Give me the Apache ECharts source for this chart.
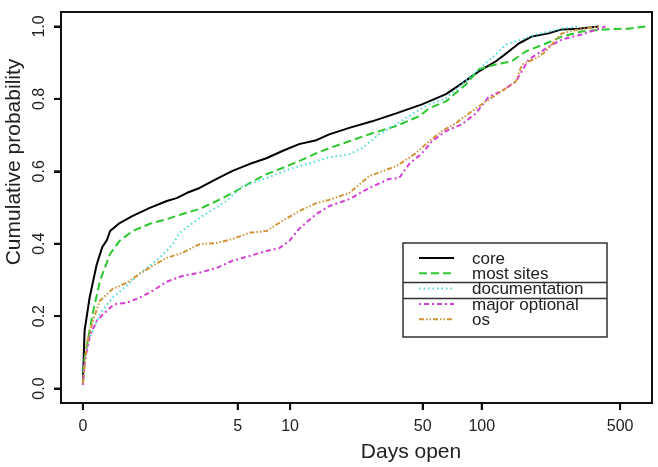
<!DOCTYPE html>
<html><head><meta charset="utf-8">
<script src="https://cdn.jsdelivr.net/npm/echarts@6/dist/echarts.min.js"></script>
<style>html,body{margin:0;padding:0;background:#fff}#wrap{position:relative;width:658px;height:467px}#c{width:658px;height:467px}#ticks{position:absolute;left:0;top:0;pointer-events:none}</style>
</head><body><div id="wrap"><div id="c"></div><svg id="ticks" width="658" height="467" xmlns="http://www.w3.org/2000/svg"></svg></div>
<script>
// ---- data ----
const xTickDays = [0, 5, 10, 50, 100, 500];
const yTicks = [0, 0.2, 0.4, 0.6, 0.8, 1.0];
const seriesNames = ['core', 'most sites', 'documentation', 'major optional', 'os'];

const coreDays = [0, 0.02, 0.08, 0.17, 0.25, 0.32, 0.37, 0.53, 0.78, 1.17, 1.64, 1.96, 2.32, 2.86, 3.7, 4.65, 5.87, 7.36, 9.06, 11.2, 13.9, 16.3, 20.8, 27.4, 36.5, 49.6, 65.8, 79.3, 96.7, 118, 137, 154, 179, 218, 254, 309, 390];
const coreProb = [0.02, 0.16, 0.25, 0.34, 0.39, 0.41, 0.435, 0.457, 0.477, 0.499, 0.518, 0.526, 0.54, 0.554, 0.579, 0.601, 0.62, 0.636, 0.656, 0.675, 0.686, 0.702, 0.72, 0.738, 0.76, 0.785, 0.813, 0.843, 0.876, 0.904, 0.931, 0.953, 0.972, 0.981, 0.992, 0.994, 1.0];

const mostDays = [0, 0.01, 0.08, 0.12, 0.22, 0.37, 0.53, 0.78, 1.17, 1.64, 2.17, 2.86, 3.7, 4.65, 5.87, 7.36, 9.06, 11.2, 13.9, 16.3, 20.8, 27.4, 36.5, 47.9, 53.9, 65.8, 83.1, 96.7, 118, 142, 167, 211, 254, 320, 422, 551, 670];
const mostProb = [0.01, 0.07, 0.16, 0.207, 0.298, 0.372, 0.408, 0.435, 0.455, 0.468, 0.482, 0.496, 0.518, 0.54, 0.567, 0.592, 0.609, 0.628, 0.65, 0.664, 0.683, 0.705, 0.725, 0.752, 0.774, 0.793, 0.84, 0.882, 0.895, 0.904, 0.931, 0.953, 0.972, 0.986, 0.992, 0.994, 1.0];

const docDays = [0, 0.023, 0.084, 0.22, 0.41, 0.66, 1.0, 1.43, 1.83, 2.06, 2.86, 4.27, 5.34, 7.36, 9.9, 13.9, 16.3, 20.8, 24.3, 29.8, 36.5, 44.1, 53.9, 65.8, 79.3, 96.7, 118, 132, 149, 188, 254, 309];
const docProb = [0.01, 0.085, 0.14, 0.207, 0.251, 0.284, 0.325, 0.361, 0.399, 0.43, 0.471, 0.518, 0.559, 0.581, 0.606, 0.628, 0.639, 0.647, 0.664, 0.702, 0.73, 0.758, 0.785, 0.802, 0.84, 0.882, 0.923, 0.95, 0.959, 0.978, 0.994, 1.0];

const majorDays = [0, 0.023, 0.084, 0.175, 0.32, 0.41, 0.48, 0.66, 0.93, 1.24, 1.64, 2.17, 2.86, 3.7, 4.65, 5.87, 7.36, 8.72, 9.9, 11.2, 13.9, 16.3, 20.8, 26.5, 33.6, 37.8, 42.6, 49.6, 55.8, 65.8, 79.3, 93.4, 109, 126, 149, 173, 211, 254, 320, 422];
const majorProb = [0.01, 0.077, 0.146, 0.187, 0.215, 0.229, 0.234, 0.237, 0.251, 0.27, 0.295, 0.311, 0.32, 0.333, 0.353, 0.366, 0.38, 0.388, 0.408, 0.441, 0.482, 0.504, 0.523, 0.554, 0.579, 0.581, 0.62, 0.65, 0.683, 0.711, 0.73, 0.76, 0.807, 0.821, 0.848, 0.909, 0.939, 0.964, 0.978, 1.0];

const osDays = [0, 0.047, 0.122, 0.217, 0.41, 0.66, 0.93, 1.24, 1.64, 2.17, 2.86, 3.7, 4.65, 5.87, 7.36, 9.06, 11.2, 13.9, 16.3, 20.8, 26.5, 36.5, 46.2, 53.9, 62.8, 73.9, 86.1, 105, 126, 149, 160, 188, 211, 254, 309, 390];
const osProb = [0.014, 0.124, 0.187, 0.242, 0.275, 0.292, 0.317, 0.339, 0.361, 0.375, 0.399, 0.402, 0.413, 0.43, 0.435, 0.463, 0.49, 0.512, 0.521, 0.54, 0.587, 0.614, 0.65, 0.683, 0.711, 0.733, 0.76, 0.793, 0.821, 0.848, 0.895, 0.912, 0.931, 0.981, 0.992, 1.0];

// ---- styling ----
const colors = ['#000000', '#2ec62e', '#4fd9d9', '#d23fd2', '#d0943a'];
const dashes = ['solid', [8, 4], [1.5, 3], [2, 3, 5, 3], [5, 2, 1.5, 2, 1.5, 2]];
const FONT = '"Liberation Sans", Arial, sans-serif';
const X_MIN = -0.11, X_MAX = 2.86, Y_MIN = -0.04, Y_MAX = 1.04;
const GRID = { left: 61, right: 6, top: 12, bottom: 64 };
const W = 658, H = 467;

const tx = d => Math.log10(d + 1);
const allDays = [coreDays, mostDays, docDays, majorDays, osDays];
const allProb = [coreProb, mostProb, docProb, majorProb, osProb];

const series = seriesNames.map((name, i) => ({
  name, type: 'line', symbol: 'none', smooth: false,
  data: allDays[i].map((d, k) => [tx(d), allProb[i][k]]),
  lineStyle: { color: colors[i], width: 2, type: dashes[i] }
}));

const xTickVals = xTickDays.map(tx);

// legend (manual, R-style box)
const lg = { x0: 403, x1: 607, y0: 243, y1: 337, rowY: 258, rowH: 15.3, sx0: 419, sx1: 454, tx: 472 };
const legendEls = [
  { type: 'rect', shape: { x: lg.x0, y: lg.y0, width: lg.x1 - lg.x0, height: lg.y1 - lg.y0 }, style: { fill: '#fff', stroke: '#333', lineWidth: 1.5 }, z: 10 },
  { type: 'line', shape: { x1: lg.x0, y1: 282.5, x2: lg.x1, y2: 282.5 }, style: { stroke: '#333', lineWidth: 1.5 }, z: 11 },
  { type: 'line', shape: { x1: lg.x0, y1: 298.5, x2: lg.x1, y2: 298.5 }, style: { stroke: '#333', lineWidth: 1.5 }, z: 11 }
];
seriesNames.forEach((name, i) => {
  const y = lg.rowY + i * lg.rowH;
  legendEls.push({ type: 'line', shape: { x1: lg.sx0, y1: y, x2: lg.sx1, y2: y },
    style: { stroke: colors[i], lineWidth: 2, lineDash: dashes[i] === 'solid' ? null : dashes[i] }, z: 12 });
  legendEls.push({ type: 'text', x: lg.tx, y: y + 1, z: 12,
    style: { text: name, fill: '#222', font: '17px ' + FONT, textVerticalAlign: 'middle', textAlign: 'left' } });
});

const titleEls = [
  { type: 'text', x: 411, y: 452, style: { text: 'Days open', fill: '#222', font: '21px ' + FONT, textAlign: 'center', textVerticalAlign: 'middle' } },
  { type: 'text', x: 14, y: 162, rotation: Math.PI / 2, style: { text: 'Cumulative probability', fill: '#222', font: '21px ' + FONT, textAlign: 'center', textVerticalAlign: 'middle' } }
];

const chart = echarts.init(document.getElementById('c'));
chart.setOption({
  animation: false,
  grid: Object.assign({ show: true, borderColor: '#111', borderWidth: 2 }, GRID),
  xAxis: {
    type: 'value', min: X_MIN, max: X_MAX,
    axisLine: { show: true, onZero: false, lineStyle: { color: '#111', width: 2 } },
    splitLine: { show: false },
    axisTick: { show: true, inside: false, length: 7, customValues: xTickVals, lineStyle: { color: '#000', width: 2 } },
    axisLabel: { show: true, customValues: xTickVals, margin: 16, fontSize: 16, color: '#222', fontFamily: FONT,
      formatter: v => { const i = xTickVals.findIndex(t => Math.abs(t - v) < 1e-6); return i >= 0 ? String(xTickDays[i]) : ''; } }
  },
  yAxis: {
    type: 'value', min: Y_MIN, max: Y_MAX,
    axisLine: { show: true, onZero: false, lineStyle: { color: '#111', width: 2 } },
    splitLine: { show: false },
    axisTick: { show: true, inside: false, length: 7, customValues: yTicks, lineStyle: { color: '#000', width: 2 } },
    axisLabel: { show: true, customValues: yTicks, rotate: 90, margin: 13, fontSize: 16, color: '#222', fontFamily: FONT,
      formatter: v => v.toFixed(1) }
  },
  graphic: [...titleEls, ...legendEls],
  series
});

// outward R-style ticks as an overlay, placed with the same axis scale mapping as the grid
function toPx(x, y) {
  let p = null;
  try { p = chart.convertToPixel({ xAxisIndex: 0, yAxisIndex: 0 }, [x, y]); } catch (e) { p = null; }
  const gx0 = GRID.left, gx1 = W - GRID.right, gy0 = H - GRID.bottom, gy1 = GRID.top;
  const lin = [gx0 + (x - X_MIN) / (X_MAX - X_MIN) * (gx1 - gx0), gy0 + (y - Y_MIN) / (Y_MAX - Y_MIN) * (gy1 - gy0)];
  if (!p || !isFinite(p[0]) || !isFinite(p[1]) || Math.abs(p[0] - lin[0]) > 3 || Math.abs(p[1] - lin[1]) > 3) p = lin;
  return p;
}
const svg = document.getElementById('ticks');
const NS = 'http://www.w3.org/2000/svg';
function addTick(x1, y1, x2, y2) {
  const l = document.createElementNS(NS, 'line');
  l.setAttribute('x1', x1); l.setAttribute('y1', y1); l.setAttribute('x2', x2); l.setAttribute('y2', y2);
  l.setAttribute('stroke', '#111'); l.setAttribute('stroke-width', '2');
  svg.appendChild(l);
}
xTickVals.forEach(v => { const p = toPx(v, Y_MIN); addTick(p[0], p[1], p[0], p[1] + 7); });
yTicks.forEach(v => { const p = toPx(X_MIN, v); addTick(p[0] - 7, p[1], p[0], p[1]); });
</script></body></html>
